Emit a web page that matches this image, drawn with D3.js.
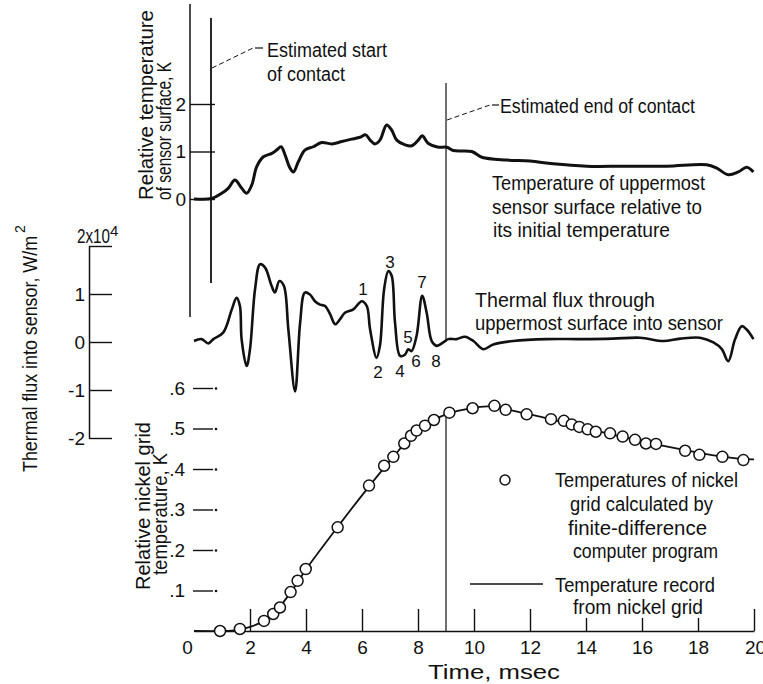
<!DOCTYPE html>
<html>
<head>
<meta charset="utf-8">
<script src="https://cdn.jsdelivr.net/npm/d3@7"></script>
<style>
  body { margin: 0; background: #fff; }
  text { font-family: "Liberation Sans", Arial, sans-serif; fill: #111; }
</style>
</head>
<body>
<div id="chart"></div>
<script>
// time in msec
const surfaceTemp = [[0,0],[0.63,0.01],[0.99,0.12],[1.23,0.23],[1.46,0.40],[1.70,0.23],[1.88,0.12],[2.06,0.29],
  [2.24,0.68],[2.48,0.89],[2.78,0.96],[2.95,1.03],[3.11,1.10],[3.25,0.93],[3.43,0.65],[3.55,0.57],[3.73,0.79],
  [3.96,1.03],[4.26,1.10],[4.56,1.19],[4.92,1.16],[5.28,1.21],[5.63,1.26],[5.93,1.30],[6.13,1.35],[6.29,1.24],
  [6.46,1.16],[6.64,1.24],[6.88,1.56],[7.06,1.45],[7.24,1.24],[7.54,1.14],[7.78,1.12],[8.01,1.24],[8.15,1.33],
  [8.37,1.17],[8.73,1.09],[9.03,1.09],[9.26,1.02],[9.92,1.00],[10.28,0.88],[11.17,0.82],[12.0,0.80],[12.83,0.74],
  [14.03,0.69],[15.33,0.69],[16.88,0.69],[18.31,0.72],[18.67,0.65],[19.08,0.51],[19.44,0.57],[19.74,0.67],[19.98,0.57]];

// thermal flux, units of 1e4 W/m2
const thermalFlux = [[0,0.02],[0.27,0.06],[0.51,-0.03],[0.69,0.06],[1.05,0.2],[1.35,0.68],[1.52,0.92],[1.64,0.75],
  [1.70,0.06],[1.88,-0.5],[2.0,-0.15],[2.18,1.1],[2.36,1.62],[2.54,1.55],[2.77,1.17],[2.89,1.03],[3.05,1.27],
  [3.21,1.17],[3.37,0.26],[3.61,-1.03],[3.79,0.4],[3.96,1.03],[4.14,0.99],[4.32,0.85],[4.5,0.78],[4.68,0.75],
  [4.86,0.58],[5.04,0.37],[5.21,0.47],[5.39,0.61],[5.69,0.68],[5.99,0.85],[6.17,0.75],[6.29,0.26],[6.52,-0.33],
  [6.64,-0.08],[6.79,1.1],[6.94,1.48],[7.06,1.38],[7.18,0.4],[7.36,-0.29],[7.54,-0.26],[7.65,-0.15],[7.77,-0.19],
  [7.95,0.13],[8.15,0.96],[8.31,0.61],[8.49,0.02],[8.67,-0.08],[8.9,-0.01],[9.08,0.06],[9.38,0.06],[9.68,0.11],
  [9.98,0.02],[10.33,-0.15],[10.69,-0.05],[11.4,0.02],[12.6,0.06],[13.8,0.06],[14.96,0.07],[15.93,0.09],
  [16.76,0.02],[17.36,0.07],[18.07,0.09],[18.55,-0.01],[18.85,-0.15],[19.08,-0.4],[19.32,0.05],[19.56,0.33],
  [19.74,0.26],[19.98,0.06]];

const nickelCalc = [[0.93,0.0],[1.64,0.005],[2.5,0.025],[2.83,0.042],[3.07,0.058],[3.45,0.096],[3.70,0.124],
  [3.99,0.153],[5.13,0.256],[6.25,0.359],[6.79,0.408],[7.12,0.430],[7.51,0.463],[7.75,0.482],[7.95,0.495],
  [8.25,0.507],[8.57,0.521],[9.12,0.539],[9.95,0.550],[10.73,0.556],[11.13,0.546],[11.88,0.535],[12.75,0.523],
  [13.21,0.519],[13.49,0.510],[13.76,0.504],[14.06,0.498],[14.35,0.492],[14.86,0.488],[15.31,0.480],[15.75,0.472],
  [16.14,0.463],[16.5,0.462],[17.54,0.445],[18.05,0.435],[18.87,0.430],[19.62,0.422]];

const nickelRecord = [[0,0],[1.0,0.0],[1.6,0.003],[2.0,0.01],[2.5,0.025],[3.0,0.055],[3.5,0.1],[4.0,0.152],
  [5.0,0.245],[6.0,0.335],[7.0,0.42],[8.0,0.497],[9.0,0.535],[10.0,0.551],[10.7,0.555],[11.5,0.542],[12.5,0.527],
  [13.5,0.51],[14.5,0.492],[15.5,0.476],[16.5,0.461],[17.5,0.447],[18.5,0.434],[19.5,0.425],[20.0,0.424]];

const timeTicks = [0, 2, 4, 6, 8, 10, 12, 14, 16, 18, 20];
const tempTicks = [0, 1, 2];
const fluxTicks = [-2, -1, 0, 1, 2];
const nickelTicks = [0.1, 0.2, 0.3, 0.4, 0.5, 0.6];
const peakLabels = ["1", "2", "3", "4", "5", "6", "7", "8"];

const W = 763, H = 684;
const svg = d3.select('#chart').append('svg').attr('width', W).attr('height', H);

const x = d3.scaleLinear().domain([0, 20]).range([194, 754]);
const yTemp = d3.scaleLinear().domain([0, 2]).range([199, 104]);
const yFlux = d3.scaleLinear().domain([-2, 2]).range([438, 246]);
const yNick = d3.scaleLinear().domain([0, 0.6]).range([631, 388]);

function txt(g, px, py, s, opts) {
  opts = opts || {};
  let t = g.append('text').attr('x', px).attr('y', py).text(s)
    .style('font-size', (opts.size || 20) + 'px');
  if (opts.anchor) t.attr('text-anchor', opts.anchor);
  if (opts.len) t.attr('textLength', opts.len).attr('lengthAdjust', 'spacingAndGlyphs');
  if (opts.rot) t.attr('transform', 'rotate(-90,' + px + ',' + py + ')');
  return t;
}

function styleAxis(g, size) {
  g.attr('font-family', null).attr('font-size', null);
  g.selectAll('.tick line').attr('stroke', '#111').attr('stroke-width', 1.4);
  g.selectAll('.tick text').style('font-size', size + 'px').attr('fill', '#111');
}

// ---- x axis
let xg = svg.append('g').attr('transform', 'translate(0,631)')
  .call(d3.axisBottom(x).tickValues(timeTicks).tickSize(-22).tickSizeOuter(0).tickPadding(10));
styleAxis(xg, 19);
xg.select('.domain').attr('stroke', '#111').attr('stroke-width', 1.6);
xg.selectAll('.tick line').attr('y2', d => d == 0 ? 0 : (d >= 14 && d < 20 ? -13 : -22));
xg.selectAll('.tick text').attr('dx', d => d == 0 ? -7 : (d == 20 ? 1 : 0));
txt(svg, 428, 679, 'Time, msec', {len: 132});

// ---- nickel axis (ticks only)
let ng = svg.append('g').attr('transform', 'translate(193,0)')
  .call(d3.axisLeft(yNick).tickValues(nickelTicks).tickSize(-20).tickPadding(8)
    .tickFormat(d => d3.format('.1f')(d).replace(/^0/, '')));
ng.select('.domain').remove();
styleAxis(ng, 19);
ng.selectAll('.tick').append('circle').attr('cx', 23).attr('r', 1.3).attr('fill', '#111');
txt(svg, 150, 506, 'Relative nickel grid', {rot: true, anchor: 'middle', len: 168});
txt(svg, 167, 514, 'temperature, K', {rot: true, anchor: 'middle', len: 122});

// ---- flux axis
let fg = svg.append('g').attr('transform', 'translate(89,0)')
  .call(d3.axisLeft(yFlux).tickValues(fluxTicks).tickSize(-23).tickSizeOuter(0).tickPadding(4)
    .tickFormat(d => d == 2 ? '' : String(d)));
styleAxis(fg, 19);
fg.select('.domain').attr('stroke', '#111').attr('stroke-width', 1.5);
txt(svg, 77, 243, '2x10', {len: 33});
txt(svg, 110, 236, '4', {size: 15});
txt(svg, 37, 472, 'Thermal flux into sensor, W/m', {rot: true, len: 236});
txt(svg, 25, 233, '2', {rot: true, size: 14});

// ---- surface temperature axis
svg.append('line').attr('x1', 190).attr('x2', 190).attr('y1', 4).attr('y2', 317)
  .attr('stroke', '#111').attr('stroke-width', 1.5);
let tg = svg.append('g').attr('transform', 'translate(190,0)')
  .call(d3.axisLeft(yTemp).tickValues(tempTicks).tickSize(-25).tickPadding(4).tickFormat(d3.format('d')));
tg.select('.domain').remove();
styleAxis(tg, 19);
txt(svg, 153, 200, 'Relative temperature', {rot: true, len: 190});
txt(svg, 171, 200, 'of sensor surface, K', {rot: true, len: 138});

// ---- contact lines
svg.append('line').attr('x1', 211).attr('x2', 211).attr('y1', 18).attr('y2', 283)
  .attr('stroke', '#111').attr('stroke-width', 1.8);
svg.append('line').attr('x1', x(9)).attr('x2', x(9)).attr('y1', 83).attr('y2', 342)
  .attr('stroke', '#111').attr('stroke-width', 1.2);
svg.append('line').attr('x1', x(9)).attr('x2', x(9)).attr('y1', 412).attr('y2', 631)
  .attr('stroke', '#111').attr('stroke-width', 1.2);

// leaders
svg.append('path').attr('d', 'M212,68L253,48').attr('stroke', '#111').attr('stroke-width', 1)
  .attr('stroke-dasharray', '5,3').attr('fill', 'none');
svg.append('path').attr('d', 'M255,48L263,48').attr('stroke', '#111').attr('stroke-width', 1.2);
svg.append('path').attr('d', 'M447,120L490,105').attr('stroke', '#111').attr('stroke-width', 1)
  .attr('stroke-dasharray', '5,3').attr('fill', 'none');
svg.append('path').attr('d', 'M492,105L499,105').attr('stroke', '#111').attr('stroke-width', 1.2);

txt(svg, 267, 57, 'Estimated start', {len: 120});
txt(svg, 267, 81, 'of contact', {len: 78});
txt(svg, 500, 113, 'Estimated end of contact', {len: 195});

// ---- curves
const curve = d3.curveCatmullRom.alpha(0.5);
svg.append('path').datum(surfaceTemp)
  .attr('d', d3.line().x(d => x(d[0])).y(d => yTemp(d[1])).curve(curve))
  .attr('fill', 'none').attr('stroke', '#111').attr('stroke-width', 3);
svg.append('path').datum(thermalFlux)
  .attr('d', d3.line().x(d => x(d[0])).y(d => yFlux(d[1])).curve(curve))
  .attr('fill', 'none').attr('stroke', '#111').attr('stroke-width', 2.6);
svg.append('path').datum(nickelRecord)
  .attr('d', d3.line().x(d => x(d[0])).y(d => yNick(d[1])).curve(curve))
  .attr('fill', 'none').attr('stroke', '#111').attr('stroke-width', 1.8);
svg.append('g').selectAll('circle').data(nickelCalc).join('circle')
  .attr('cx', d => x(d[0])).attr('cy', d => yNick(d[1])).attr('r', 5.5)
  .attr('fill', '#fff').attr('stroke', '#111').attr('stroke-width', 1.5);

// ---- curve annotations
txt(svg, 492, 190, 'Temperature of uppermost', {len: 213});
txt(svg, 492, 214, 'sensor surface relative to', {len: 210});
txt(svg, 493, 237, 'its initial temperature', {len: 177});
txt(svg, 475, 307, 'Thermal flux through', {len: 180});
txt(svg, 475, 330, 'uppermost surface into sensor', {len: 248});

const peakPos = [[363, 295], [378, 378], [390, 268], [400, 377], [408, 343], [416, 367], [422, 288], [436, 367]];
svg.append('g').selectAll('text').data(peakLabels).join('text')
  .attr('x', (d, i) => peakPos[i][0]).attr('y', (d, i) => peakPos[i][1])
  .attr('text-anchor', 'middle').style('font-size', '17px').text(d => d);

// ---- legend
svg.append('circle').attr('cx', 505).attr('cy', 480).attr('r', 5)
  .attr('fill', '#fff').attr('stroke', '#111').attr('stroke-width', 1.5);
txt(svg, 555, 487, 'Temperatures of nickel', {len: 183});
txt(svg, 570, 511, 'grid calculated by', {len: 143});
txt(svg, 568, 535, 'finite-difference', {len: 139});
txt(svg, 573, 558, 'computer program', {len: 145});
svg.append('line').attr('x1', 470).attr('x2', 543).attr('y1', 584).attr('y2', 584)
  .attr('stroke', '#111').attr('stroke-width', 1.6);
txt(svg, 555, 592, 'Temperature record', {len: 160});
txt(svg, 573, 614, 'from nickel grid', {len: 130});
</script>
</body>
</html>
